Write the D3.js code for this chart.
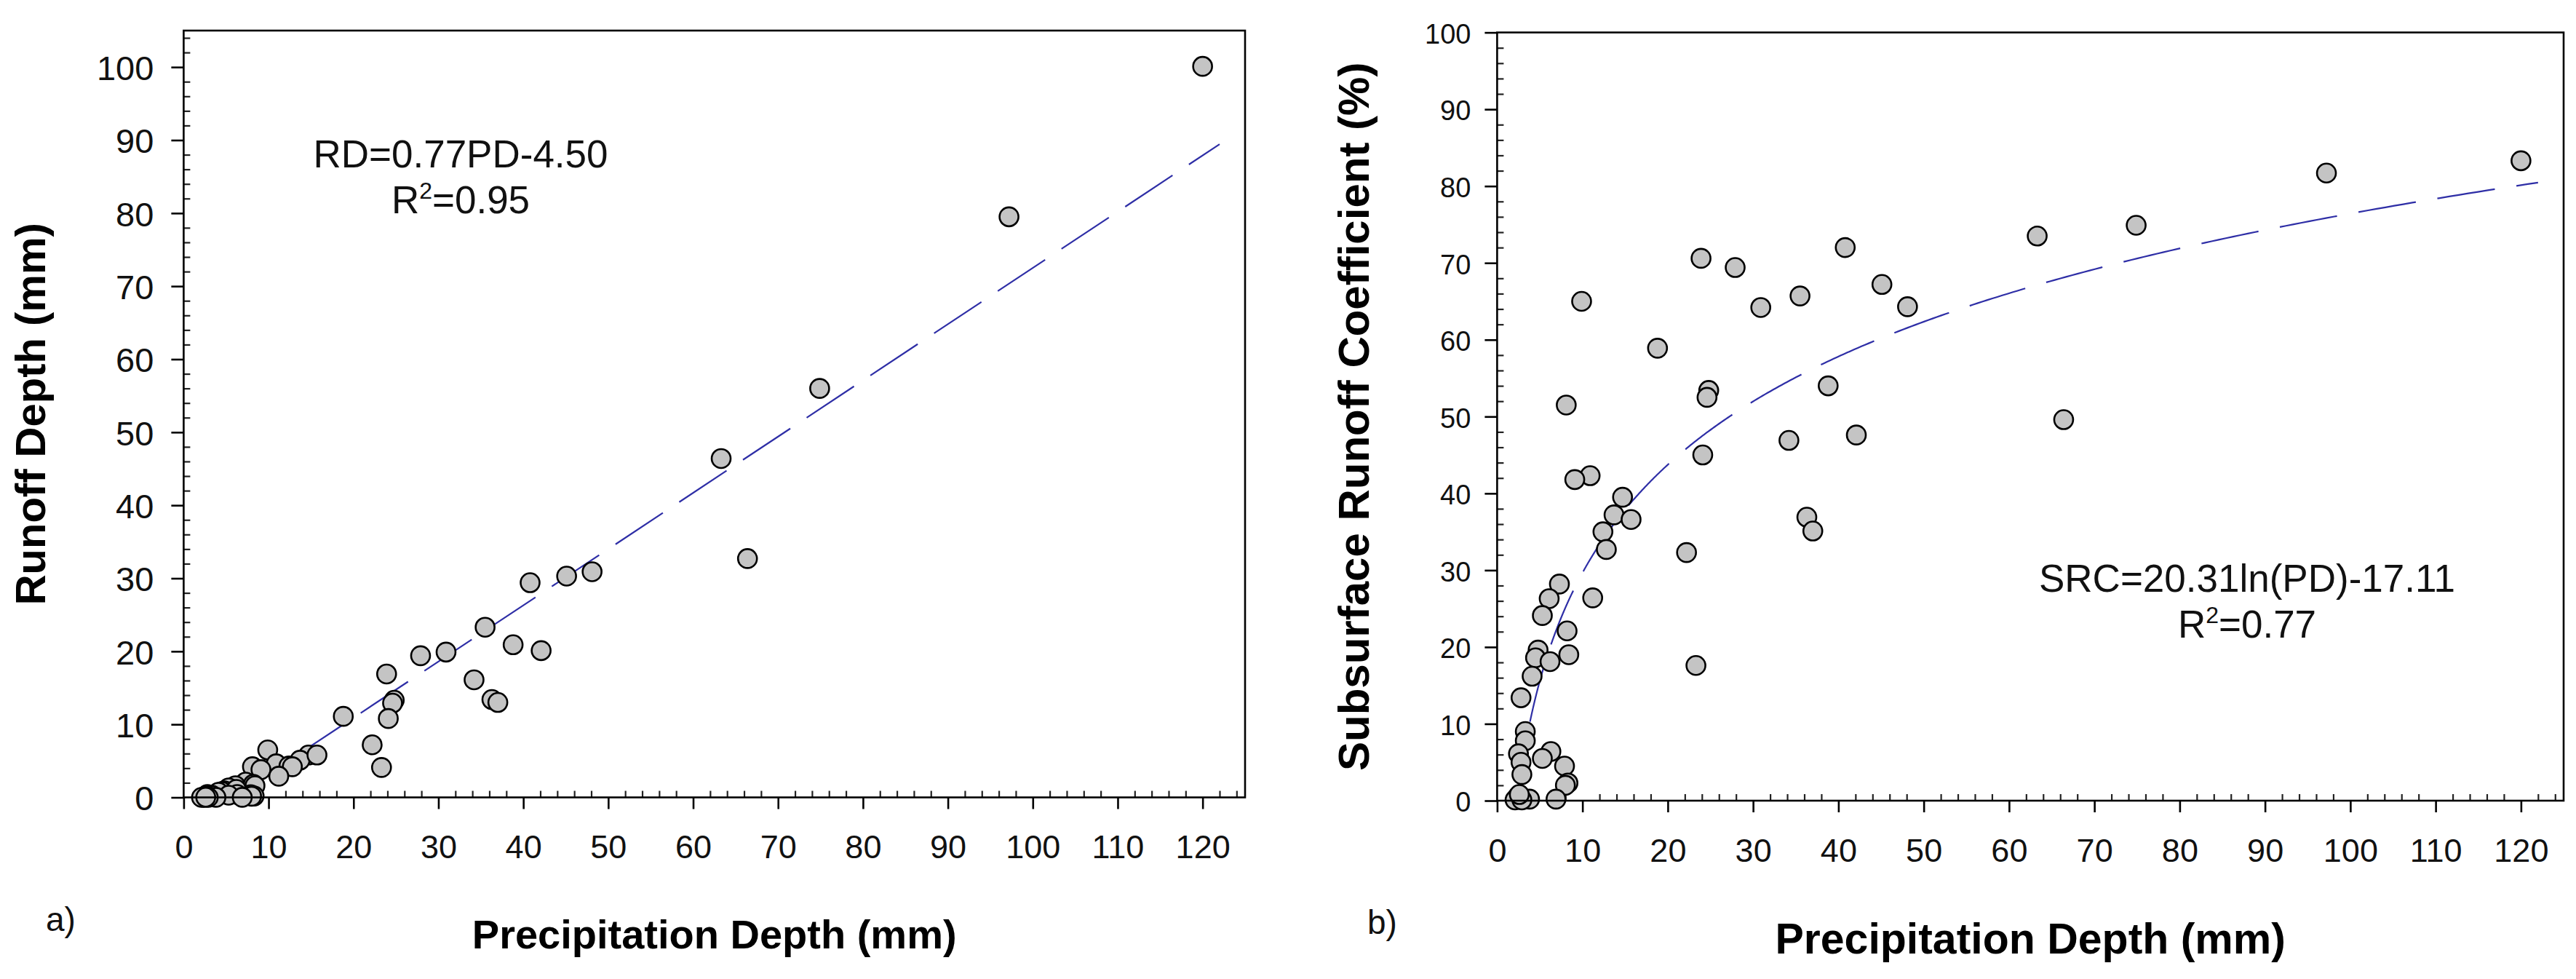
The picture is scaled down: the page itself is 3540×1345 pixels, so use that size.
<!DOCTYPE html>
<html><head><meta charset="utf-8">
<script src="https://cdn.jsdelivr.net/npm/d3@7"></script>
<style>html,body{margin:0;padding:0;background:#fff;} svg{display:block;}</style>
</head><body>
<svg id="chart" width="3540" height="1345"></svg>
<script>
// ---- data ----
const precipitation = [120.0, 97.2, 74.9, 63.3, 66.4, 48.1, 45.1, 40.8, 42.1, 38.8, 35.5, 34.2, 36.3, 37.0, 30.9,
  27.9, 23.9, 24.8, 24.6, 24.1, 18.8, 22.2, 23.3, 9.9, 8.1, 10.9, 9.1, 14.7, 13.7, 15.7, 12.4, 12.8, 11.2, 7.3,
  6.1, 5.3, 8.2, 4.8, 4.5, 6.2, 8.4, 4.1, 2.8, 3.3, 3.3, 2.5, 6.3, 5.3, 2.8, 7.9, 2.9, 8.3, 8.0, 6.9, 2.4, 2.1,
  3.8, 2.9, 2.6];
const runoffDepth = [100.1, 79.5, 56.0, 46.4, 32.7, 30.9, 30.3, 29.4, 20.1, 20.9, 23.3, 16.1, 13.4, 13.0, 19.9,
  19.4, 16.9, 13.3, 12.9, 10.8, 11.1, 7.2, 4.1, 6.5, 4.2, 4.6, 3.8, 5.8, 5.1, 5.8, 4.3, 4.2, 2.9, 2.1,
  1.6, 1.3, 1.8, 0.9, 0.8, 1.1, 1.6, 0.7, 0.4, 0.3, 0.26, 0.15, 0.4, 0.3, 0.14, 0.36, 0.1, 0.19, 0.16, 0.01, 0.01, 0.0,
  0.01, 0.0, 0.02];
const runoffCoefficient = [83.3, 81.7, 74.9, 73.5, 49.6, 64.3, 67.2, 72.0, 47.6, 54.0, 65.7, 46.9, 36.9, 35.1, 64.2,
  69.4, 70.6, 53.4, 52.5, 45.0, 58.9, 32.3, 17.6, 65.0, 51.5, 42.3, 41.8, 39.5, 37.2, 36.6, 35.0, 32.7, 26.4, 28.2,
  26.3, 24.1, 22.1, 19.6, 18.6, 18.1, 19.0, 16.2, 13.4, 9.0, 7.8, 6.1, 6.4, 5.5, 5.0, 4.5, 3.4, 2.3, 2.0, 0.2, 0.5, 0.1,
  0.2, 0.1, 0.8];
const xTickValues = [0, 10, 20, 30, 40, 50, 60, 70, 80, 90, 100, 110, 120];
const yTickValuesA = [0, 10, 20, 30, 40, 50, 60, 70, 80, 90, 100];
const yTickValuesB = [0, 10, 20, 30, 40, 50, 60, 70, 80, 90, 100];
const fitLinear = {slope: 0.77, intercept: -4.50, xEnd: 122};
const fitLog = {a: 20.31, b: -17.11, xEnd: 122};

const FONT = "'Liberation Sans', Arial, Helvetica, sans-serif";
const svg = d3.select("#chart");
svg.append("rect").attr("width", 3540).attr("height", 1345).attr("fill", "#fff");

function panel(cfg) {
  const x = d3.scaleLinear().domain([0, 125]).range([cfg.left, cfg.right]);
  const y = d3.scaleLinear().domain([0, cfg.yMax]).range([cfg.bottom, cfg.top]);
  const g = svg.append("g");
  const clipId = "clip" + cfg.id;
  svg.append("clipPath").attr("id", clipId).append("rect")
    .attr("x", cfg.left).attr("y", cfg.top)
    .attr("width", cfg.right - cfg.left).attr("height", cfg.bottom - cfg.top);

  // minor ticks (inward)
  const xMinor = d3.range(2, 125, 2).filter(v => v % 10 !== 0);
  const yMinor = d3.range(2, cfg.yMax + 0.01, 2).filter(v => v % 10 !== 0);
  g.append("g").attr("transform", `translate(0,${cfg.bottom})`)
    .call(d3.axisTop(x).tickValues(xMinor).tickSize(9).tickFormat(""))
    .call(s => s.select(".domain").remove())
    .call(s => s.selectAll("line").attr("stroke", "#222").attr("stroke-width", 2.2));
  g.append("g").attr("transform", `translate(${cfg.left},0)`)
    .call(d3.axisRight(y).tickValues(yMinor).tickSize(9).tickFormat(""))
    .call(s => s.select(".domain").remove())
    .call(s => s.selectAll("line").attr("stroke", "#222").attr("stroke-width", 2.2));

  // major ticks (outward) + labels
  g.append("g").attr("transform", `translate(0,${cfg.bottom})`)
    .call(d3.axisBottom(x).tickValues(xTickValues).tickSize(16).tickPadding(36).tickFormat(d3.format("d")))
    .call(s => s.select(".domain").remove())
    .call(s => s.selectAll("line").attr("stroke", "#000").attr("stroke-width", 2.6))
    .call(s => s.selectAll("text").attr("font-family", FONT).attr("font-size", 45).attr("fill", "#111"));
  g.append("g").attr("transform", `translate(${cfg.left},0)`)
    .call(d3.axisLeft(y).tickValues(cfg.yTicks).tickSize(17).tickPadding(cfg.yPad).tickFormat(d3.format("d")))
    .call(s => s.select(".domain").remove())
    .call(s => s.selectAll("line").attr("stroke", "#000").attr("stroke-width", 2.6))
    .call(s => s.selectAll("text").attr("font-family", FONT).attr("font-size", cfg.yFont)
      .attr("dy", cfg.yDy).attr("fill", "#111"));

  // fitted curve
  const line = d3.line().x(d => x(d[0])).y(d => y(d[1]));
  g.append("path").datum(cfg.curve)
    .attr("clip-path", `url(#${clipId})`)
    .attr("d", line).attr("fill", "none")
    .attr("stroke", "#2e2ea6").attr("stroke-width", 2.2)
    .attr("stroke-dasharray", cfg.dash);

  // points
  g.append("g").selectAll("circle").data(cfg.points).join("circle")
    .attr("cx", d => x(d[0])).attr("cy", d => y(d[1])).attr("r", 13)
    .attr("fill", "#c4c4c4").attr("stroke", "#000").attr("stroke-width", 2.6);

  // frame
  g.append("rect").attr("x", cfg.left).attr("y", cfg.top)
    .attr("width", cfg.right - cfg.left).attr("height", cfg.bottom - cfg.top)
    .attr("fill", "none").attr("stroke", "#000").attr("stroke-width", 2.6);

  // axis titles
  g.append("text").attr("x", (cfg.left + cfg.right) / 2).attr("y", cfg.xTitleY)
    .attr("text-anchor", "middle").attr("font-family", FONT).attr("font-weight", "bold")
    .attr("font-size", cfg.xTitleSize).attr("fill", "#000").text("Precipitation Depth (mm)");
  g.append("text")
    .attr("transform", `translate(${cfg.yTitleX},${(cfg.top + cfg.bottom) / 2}) rotate(-90)`)
    .attr("text-anchor", "middle").attr("font-family", FONT).attr("font-weight", "bold")
    .attr("font-size", cfg.yTitleSize).attr("fill", "#000").text(cfg.yTitle);

  // equation
  const eq = g.append("text").attr("font-family", FONT).attr("font-size", 53).attr("fill", "#111")
    .attr("text-anchor", "middle");
  eq.append("tspan").attr("x", cfg.eqX).attr("y", cfg.eqY).text(cfg.eq);
  const r2 = g.append("text").attr("font-family", FONT).attr("font-size", 53).attr("fill", "#111")
    .attr("text-anchor", "middle").attr("x", cfg.eqX).attr("y", cfg.eqY + 63);
  r2.append("tspan").text("R");
  r2.append("tspan").attr("font-size", 32).attr("dy", -20).text("2");
  r2.append("tspan").attr("dy", 20).text("=" + cfg.r2);

  // panel letter
  g.append("text").attr("x", cfg.letterX).attr("y", cfg.letterY)
    .attr("font-family", FONT).attr("font-size", 46).attr("fill", "#111").text(cfg.letter);
}

const ptsA = precipitation.map((p, i) => [p, runoffDepth[i]]);
const ptsB = precipitation.map((p, i) => [p, runoffCoefficient[i]]);
const x0A = -fitLinear.intercept / fitLinear.slope;
const curveA = [[x0A, 0], [fitLinear.xEnd, fitLinear.slope * fitLinear.xEnd + fitLinear.intercept]];
const x0B = Math.exp(-fitLog.b / fitLog.a);
const curveB = d3.range(0, 401).map(i => {
  const xv = x0B * Math.pow(fitLog.xEnd / x0B, i / 400);
  return [xv, fitLog.a * Math.log(xv) + fitLog.b];
});

panel({id: "A", left: 252.4, right: 1711, top: 42, bottom: 1095.5, yMax: 105,
  yTicks: yTickValuesA, yFont: 47, yPad: 24, yDy: "0.37em",
  points: ptsA, curve: curveA, dash: "78,27",
  xTitleY: 1303, xTitleSize: 56, yTitleX: 62, yTitleSize: 58, yTitle: "Runoff Depth (mm)",
  eq: "RD=0.77PD-4.50", r2: "0.95", eqX: 633, eqY: 230, letter: "a)", letterX: 63, letterY: 1279});

panel({id: "B", left: 2057.4, right: 3523, top: 44.6, bottom: 1100, yMax: 100,
  yTicks: yTickValuesB, yFont: 38, yPad: 19, yDy: "0.39em",
  points: ptsB, curve: curveB, dash: "80,30",
  xTitleY: 1310, xTitleSize: 59, yTitleX: 1881, yTitleSize: 60, yTitle: "Subsurface Runoff Coefficient (%)",
  eq: "SRC=20.31ln(PD)-17.11", r2: "0.77", eqX: 3088, eqY: 813, letter: "b)", letterX: 1879, letterY: 1283});
</script>
</body></html>
